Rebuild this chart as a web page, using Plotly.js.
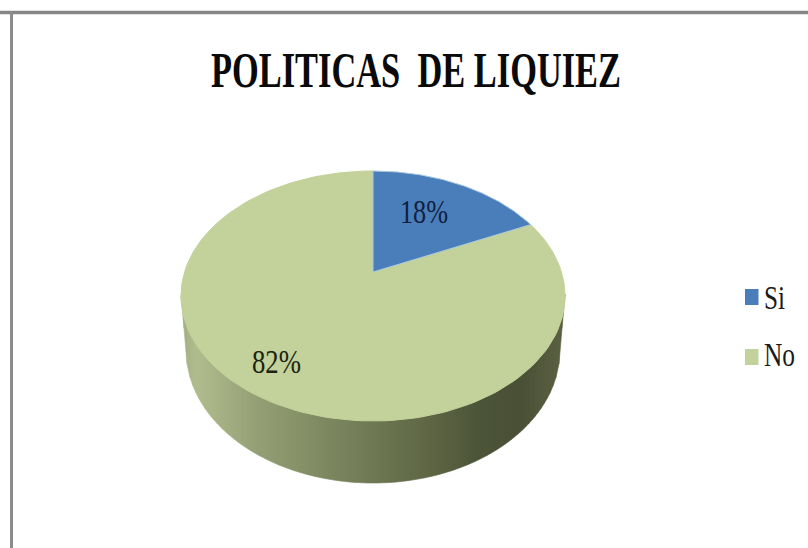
<!DOCTYPE html>
<html>
<head>
<meta charset="utf-8">
<script src="https://cdn.plot.ly/plotly-3.0.1.min.js"></script>
<style>html,body{margin:0;padding:0;background:#fff}#chart{width:808px;height:548px}</style>
</head>
<body>
<div id="chart"></div>
<script>
// Chart content
const chartTitle = 'POLITICAS  DE LIQUIEZ';
const categories = ['Si', 'No'];
const shares = [18, 82];
const sliceColors = ['#4a7ebb', '#c3d19a'];
const sliceEdges = ['#a9c8dc', '#c3d19a'];
const labelColors = ['#10213f', '#1c2410'];

// Rim shading, left to right across the disc
const rimX = [181, 195, 215, 260, 320, 373, 430, 480, 520, 550, 565];
const rimR = [160, 176, 168, 147, 128, 110,  94,  76,  74,  86,  92];
const rimG = [170, 188, 179, 158, 138, 120, 102,  84,  80,  92,  96];
const rimB = [126, 142, 134, 116,  98,  82,  68,  56,  54,  62,  66];

// Disc geometry: a tilted circle under a perspective projection
const cx = 373, apexY = 272, spanNear = 149, spanFar = 101, halfWidth = 192;
const k = (spanNear - spanFar) / (spanNear + spanFar);
const a = spanFar * (1 + k);
const R = halfWidth * Math.sqrt(1 - k * k);

// Lower rim outline
const lowCy = 350, lowRx = 187, lowRy = 133;
const shoulderY = 296;

function project(theta) {
  const u = Math.sin(theta), v = Math.cos(theta), w = 1 + k * v;
  return [cx + R * u / w, apexY - a * v / w];
}
function arc(from, to, n) {
  const xs = [], ys = [];
  for (let i = 0; i <= n; i++) {
    const p = project(from + (to - from) * i / n);
    xs.push(p[0]); ys.push(p[1]);
  }
  return [xs, ys];
}
function topY(x) {
  // Lower half of the projected disc outline at screen position x
  let best = 0, bestD = 1e9;
  for (let i = 0; i <= 1400; i++) {
    const t = 0.9 + (2 * Math.PI - 1.8) * i / 1400, p = project(t);
    const d = Math.abs(p[0] - x);
    if (d < bestD && p[1] >= shoulderY - 1) { bestD = d; best = t; }
  }
  return project(best)[1];
}
function lowY(x) {
  const d = (x - cx) / lowRx;
  if (Math.abs(d) >= 1) {
    // Outer wall between the disc's widest point and the lower rim
    const over = Math.abs(x - cx) - lowRx;
    return lowCy - (lowCy - shoulderY) * Math.min(1, over / (halfWidth - lowRx));
  }
  return lowCy + lowRy * Math.sqrt(1 - d * d);
}
function lerp(xs, ys, x) {
  for (let i = 1; i < xs.length; i++) {
    if (x <= xs[i]) return ys[i - 1] + (ys[i] - ys[i - 1]) * (x - xs[i - 1]) / (xs[i] - xs[i - 1]);
  }
  return ys[ys.length - 1];
}

const traces = [];

// Rim as narrow vertical strips
for (let x = 181; x < 565; x += 3) {
  const x2 = x + 3;
  const col = 'rgb(' + [rimR, rimG, rimB].map(c => Math.round(lerp(rimX, c, x + 1.5))).join(',') + ')';
  traces.push({
    x: [x, x2, x2, x], y: [topY(x) - 2, topY(x2) - 2, lowY(x2), lowY(x)],
    mode: 'lines', fill: 'toself', fillcolor: col,
    line: {color: col, width: 0.6}, showlegend: false, hoverinfo: 'skip'
  });
}

// Top face slices, clockwise from twelve o'clock; the small slice goes on top
const total = shares.reduce((s, v) => s + v, 0);
const sliceTraces = [];
let start = 0;
categories.forEach((name, i) => {
  const end = start + shares[i] / total * 2 * Math.PI;
  const pts = arc(start, end, 160);
  sliceTraces.unshift({
    x: [cx].concat(pts[0], [cx]), y: [apexY].concat(pts[1], [apexY]),
    mode: 'lines', fill: 'toself', fillcolor: sliceColors[i],
    line: {color: sliceEdges[i], width: 1},
    name: name, showlegend: false, hoverinfo: 'name'
  });
  start = end;
});
traces.push(...sliceTraces);

// Percent labels
const labelX = [424, 276.5];
const labelY = [214, 364];
traces.push({
  x: labelX, y: labelY, mode: 'text', text: shares.map(v => v + '%'),
  textfont: {family: 'Liberation Serif', size: 34, color: labelColors},
  textposition: 'middle center', showlegend: false, hoverinfo: 'skip'
});

// Legend keys and names
const keyLeft = 745, keyRight = 758.5;
const keyTop = [289, 349], keyBottom = [305, 365];
categories.forEach((name, i) => {
  traces.push({
    x: [keyLeft, keyRight, keyRight, keyLeft, keyLeft],
    y: [keyTop[i], keyTop[i], keyBottom[i], keyBottom[i], keyTop[i]],
    mode: 'lines', fill: 'toself', fillcolor: sliceColors[i],
    line: {color: sliceColors[i], width: 0}, showlegend: false, hoverinfo: 'skip'
  });
});
const legendTextX = [774.5, 779.5];
const legendTextY = [300, 357];
traces.push({
  x: legendTextX, y: legendTextY, mode: 'text', text: categories,
  textfont: {family: 'Liberation Serif', size: 34, color: '#1a1a1a'},
  textposition: 'middle center', showlegend: false, hoverinfo: 'skip'
});

const layout = {
  width: 808, height: 548,
  margin: {l: 0, r: 0, t: 0, b: 0},
  paper_bgcolor: '#ffffff', plot_bgcolor: '#ffffff',
  showlegend: false,
  title: {
    text: chartTitle, x: 416 / 808, xanchor: 'center', y: 1 - 69 / 548, yanchor: 'middle',
    font: {family: 'Liberation Serif', size: 50, color: '#0a0a0a', weight: 'bold'}
  },
  xaxis: {range: [0, 808], visible: false, fixedrange: true},
  yaxis: {range: [548, 0], visible: false, fixedrange: true},
  shapes: [
    {type: 'line', xref: 'paper', yref: 'paper', x0: 0, x1: 1, y0: 1 - 12.5 / 548, y1: 1 - 12.5 / 548, line: {color: '#868686', width: 3.5}},
    {type: 'line', xref: 'paper', yref: 'paper', x0: 11.5 / 808, x1: 11.5 / 808, y0: 1 - 12 / 548, y1: 0, line: {color: '#8c8c8c', width: 3}}
  ]
};

// Narrow, tall letterforms: fit each text to its horizontal extent
const fittedWidths = {'POLITICAS  DE LIQUIEZ': 410, '18%': 48, '82%': 49, 'Si': 21, 'No': 31};

const gd = document.getElementById('chart');
Plotly.newPlot(gd, traces, layout, {displayModeBar: false, staticPlot: true}).then(() => {
  gd.querySelectorAll('.gtitle, .textpoint text').forEach(el => {
    const width = fittedWidths[el.textContent.replace(/\u00a0/g, ' ')];
    if (width) {
      el.setAttribute('textLength', width);
      el.setAttribute('lengthAdjust', 'spacingAndGlyphs');
    }
  });
});
</script>
</body>
</html>
